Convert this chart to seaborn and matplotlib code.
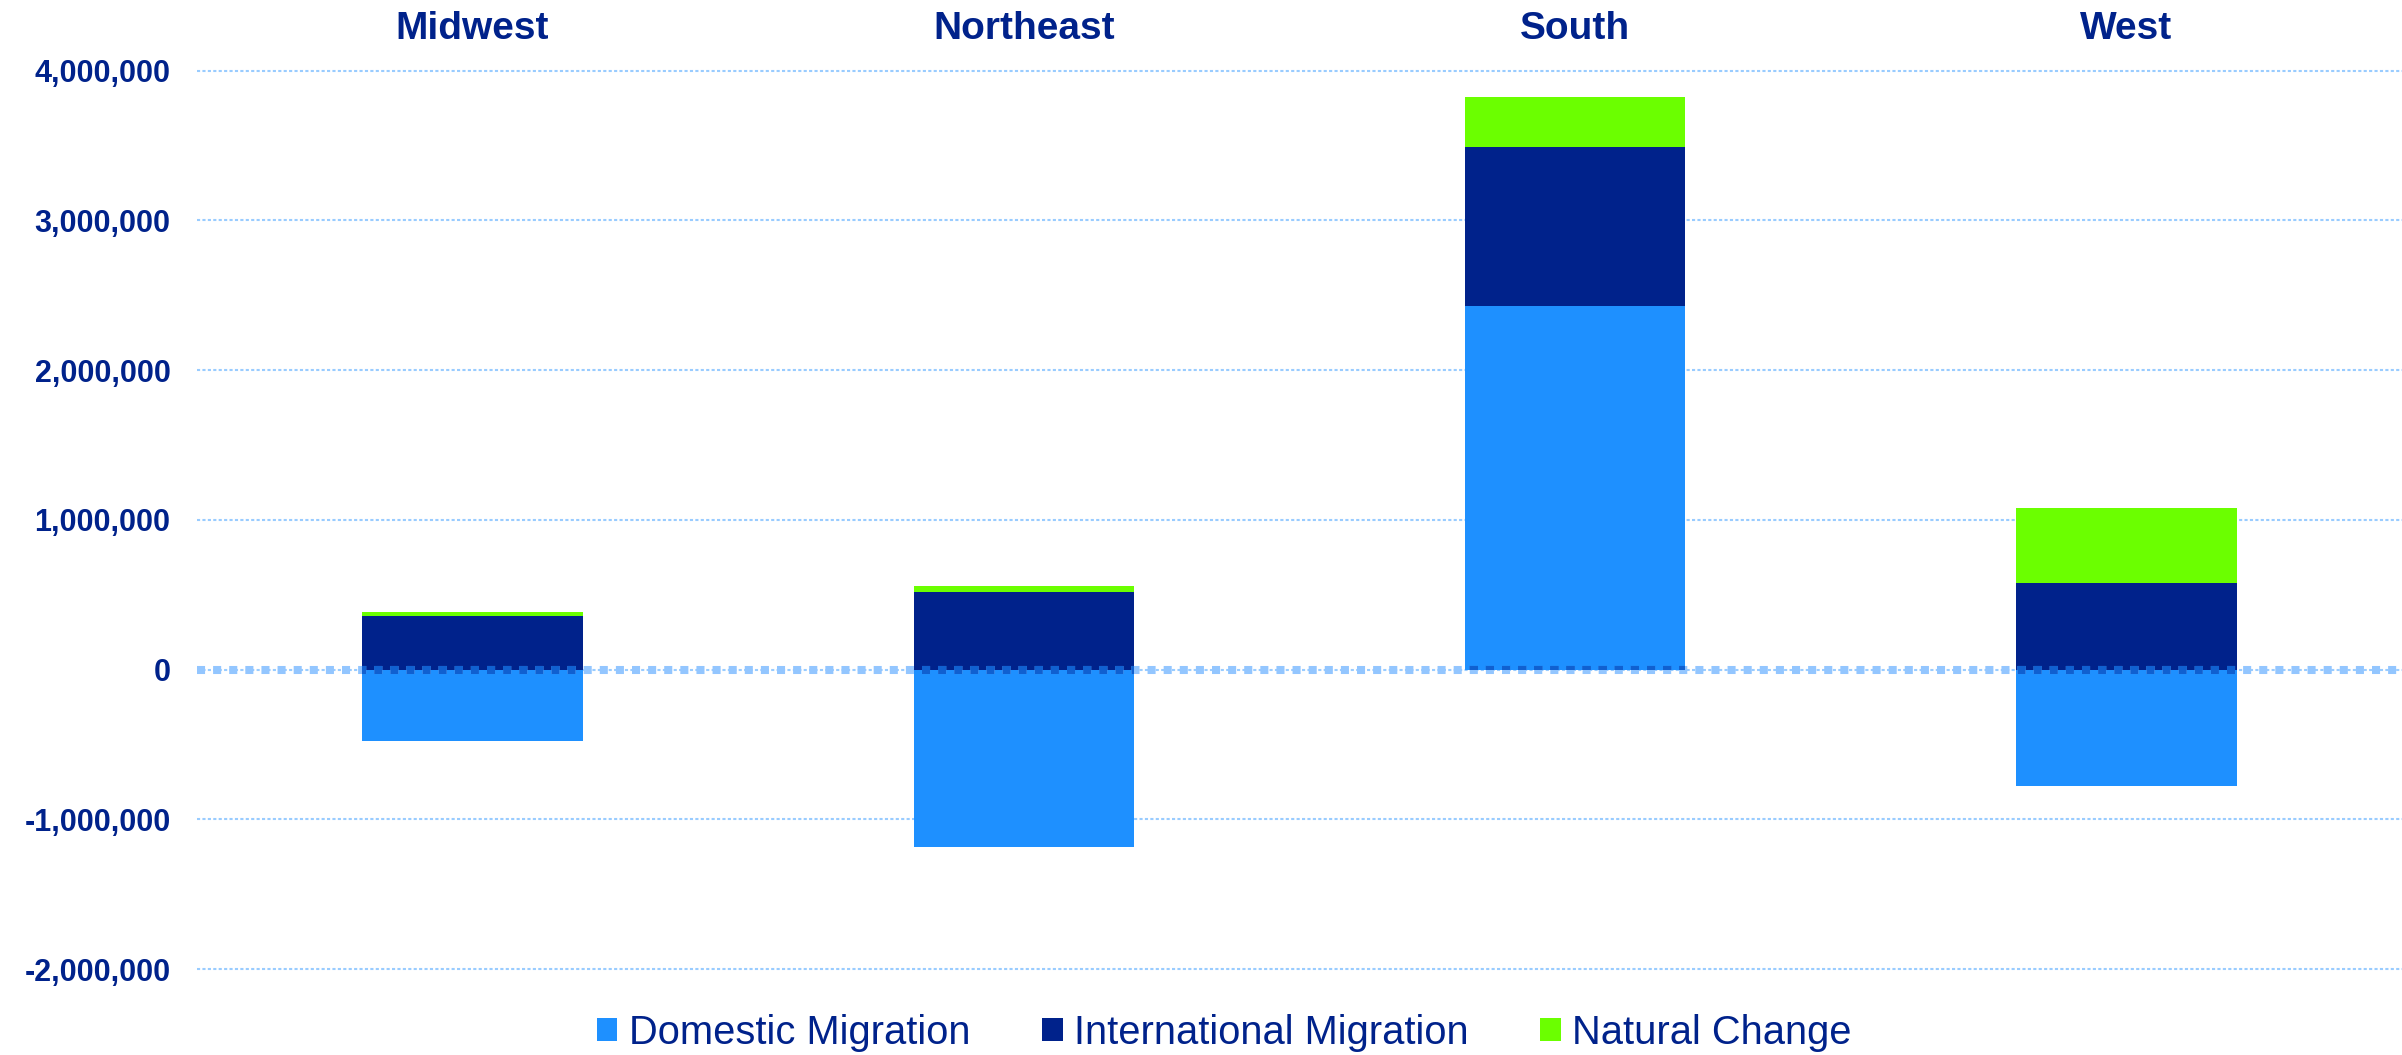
import matplotlib
matplotlib.use('Agg')
import matplotlib.pyplot as plt
from matplotlib.patches import Patch
from matplotlib.ticker import FuncFormatter
import seaborn as sns
import numpy as np
import pandas as pd

# population change components by region
regions = ['Midwest', 'Northeast', 'South', 'West']
domestic = [-480000, -1185000, 2425000, -775000]
international = [360000, 520000, 1065000, 575000]
natural = [27000, 40000, 333000, 505000]
series_names = ['Domestic Migration', 'International Migration', 'Natural Change']
y_ticks = [-2000000, -1000000, 0, 1000000, 2000000, 3000000, 4000000]

c_dom = '#1E90FF'
c_int = '#00228B'
c_nat = '#6BFF00'
c_text = '#00228B'

sns.set_style('white')
plt.rcParams['font.family'] = ['Liberation Sans', 'DejaVu Sans']

df = pd.DataFrame({'region': regions, 'domestic': domestic,
                   'international': international, 'natural': natural})
# positives stack upward from zero, negatives go down from zero (Excel style)
pos_dom = np.clip(df['domestic'], 0, None)
df['lvl_int'] = pos_dom + df['international']
df['lvl_nat'] = df['lvl_int'] + df['natural']

fig = plt.figure(figsize=(24.02, 10.55), dpi=100)
ax = fig.add_axes([0.082, 0.0744, 0.918, 0.8657])

bar_kws = dict(width=0.4, saturation=1, linewidth=0, ax=ax, order=regions)
sns.barplot(data=df, x='region', y='lvl_nat', color=c_nat, **bar_kws)
sns.barplot(data=df, x='region', y='lvl_int', color=c_int, **bar_kws)
sns.barplot(data=df, x='region', y='domestic', color=c_dom, **bar_kws)

ax.set_ylim(-2050000, 4050000)
ax.set_yticks(y_ticks)
ax.yaxis.set_major_formatter(FuncFormatter(lambda v, p: f'{v:,.0f}'))
ax.set_xlabel('')
ax.set_ylabel('')

# dotted grid behind bars
ax.set_axisbelow(True)
ax.yaxis.grid(True, color='#99CCFF', linestyle=(0, (1.5, 1.1)), linewidth=1.5)
ax.xaxis.grid(False)
for s in ax.spines.values():
    s.set_visible(False)

# thick dotted zero line, darker where it crosses the bars
zero_kw = dict(linewidth=5.8, linestyle=(0, (1, 1)), dash_capstyle='butt')
ax.axhline(0, color='#93C6FF', zorder=4, **zero_kw)
for patch in list(ax.patches):
    ln = ax.axhline(0, color='#1060D0', zorder=5, **zero_kw)
    ln.set_clip_path(patch)

# category labels on top
ax.xaxis.tick_top()
ax.tick_params(axis='x', length=0, pad=11.5, labelsize=28, labelcolor=c_text)
for t in ax.get_xticklabels():
    t.set_fontweight('bold')
ax.tick_params(axis='y', length=0, pad=19, labelsize=22, labelcolor=c_text)
for t in ax.get_yticklabels():
    t.set_fontweight('bold')

handles = [Patch(facecolor=c, edgecolor='none') for c in (c_dom, c_int, c_nat)]
fig.legend(handles, series_names, loc='center', bbox_to_anchor=(0.5096, 0.021),
           ncol=3, frameon=False, fontsize=28.7, labelcolor=c_text,
           handlelength=0.52, handleheight=0.52, handletextpad=0.28,
           columnspacing=1.8)

fig.savefig('out.png', dpi=100)
